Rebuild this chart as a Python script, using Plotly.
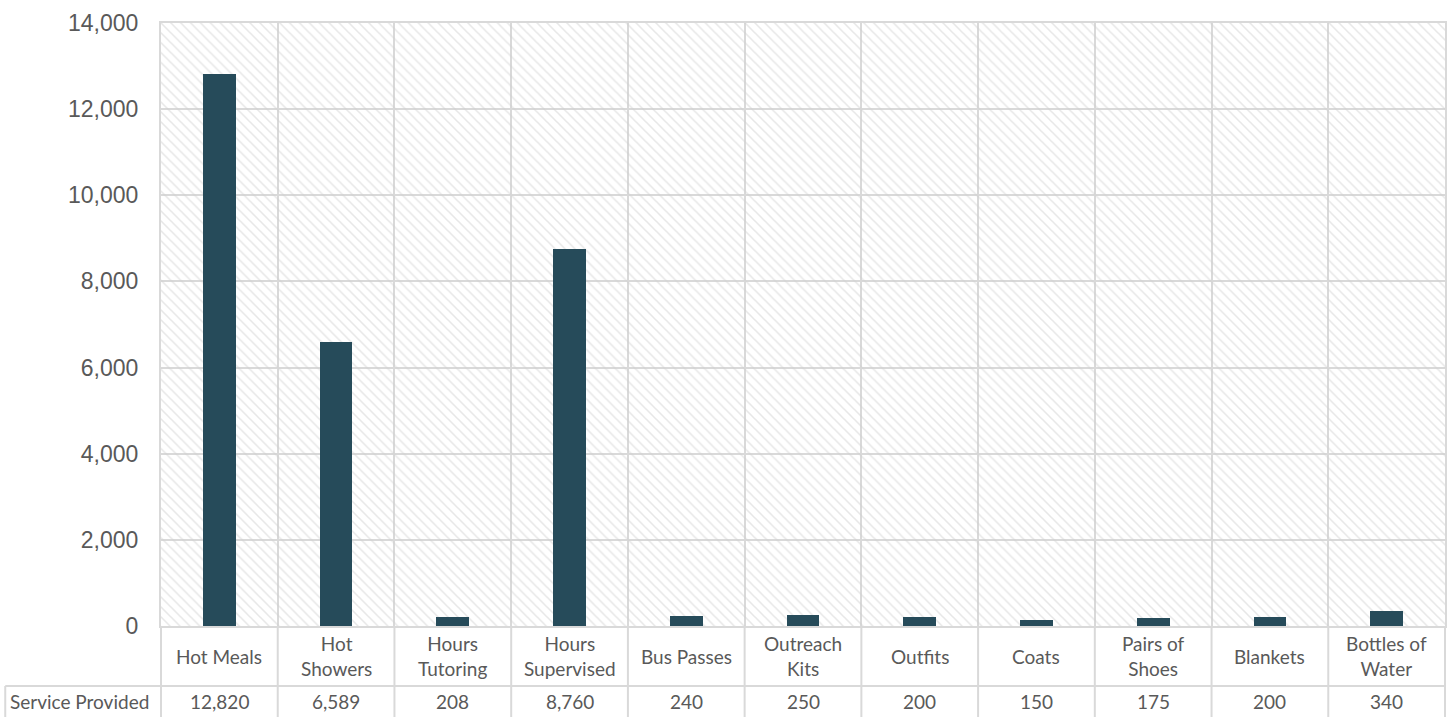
import plotly.graph_objects as go

# Services delivered over the year
categories = ["Hot Meals", "Hot Showers", "Hours Tutoring", "Hours Supervised",
              "Bus Passes", "Outreach Kits", "Outfits", "Coats",
              "Pairs of Shoes", "Blankets", "Bottles of Water"]
category_labels = ["Hot Meals", "Hot<br>Showers", "Hours<br>Tutoring", "Hours<br>Supervised",
                   "Bus Passes", "Outreach<br>Kits", "Outfits", "Coats",
                   "Pairs of<br>Shoes", "Blankets", "Bottles of<br>Water"]
service_provided = [12820, 6589, 208, 8760, 240, 250, 200, 150, 175, 200, 340]
series_name = "Service Provided"

y_max = 14000
y_ticks = [0, 2000, 4000, 6000, 8000, 10000, 12000, 14000]

W, H = 1453, 717
M_L, M_R, M_T, M_B = 161, 6, 23, 91
plot_h = H - M_T - M_B
plot_w = W - M_L - M_R

GRID = "#d9d9d9"
TEXT = "#595959"
BAR = "#264b5a"
TABLE_FONT = dict(family="Lato, 'Open Sans', sans-serif", size=19, color=TEXT)


def py(px):
    """pixel row -> paper y"""
    return (H - M_B - px) / plot_h


def pxx(px):
    """pixel column -> paper x"""
    return (px - M_L) / plot_w


fig = go.Figure()

# hatched plot-area background
fig.add_trace(go.Bar(
    x=categories, y=[y_max] * len(categories), width=1,
    marker=dict(color="rgba(0,0,0,0)", line=dict(width=0),
                pattern=dict(shape="\\", fillmode="overlay", fgcolor="#cfcfcf",
                             size=7, solidity=0.22)),
    hoverinfo="skip", showlegend=False,
))

fig.add_trace(go.Bar(
    x=categories, y=service_provided, width=0.28, name=series_name,
    marker=dict(color=BAR, line=dict(width=0)), showlegend=False,
))

# data table under the axis
annotations = []
n = len(categories)
for cat, lab, val in zip(categories, category_labels, service_provided):
    annotations.append(dict(x=cat, y=py(656), xref="x", yref="paper", text=lab,
                            showarrow=False, font=TABLE_FONT, align="center",
                            xanchor="center", yanchor="middle"))
    annotations.append(dict(x=cat, y=py(701), xref="x", yref="paper", text=f"{val:,}",
                            showarrow=False, font=TABLE_FONT,
                            xanchor="center", yanchor="middle"))
annotations.append(dict(x=pxx(8), y=py(701), xref="paper", yref="paper", text=series_name,
                        showarrow=False, font=TABLE_FONT, xanchor="left", yanchor="middle"))

shapes = []
line = dict(color=GRID, width=2)
for k in range(n + 1):
    shapes.append(dict(type="line", xref="paper", yref="paper", x0=k / n, x1=k / n,
                       y0=0, y1=py(730), line=line))
shapes.append(dict(type="line", xref="paper", yref="paper", x0=pxx(5), x1=1,
                   y0=py(686), y1=py(686), line=line))
shapes.append(dict(type="line", xref="paper", yref="paper", x0=pxx(5), x1=pxx(5),
                   y0=py(686), y1=py(730), line=line))

fig.update_layout(
    width=W, height=H,
    margin=dict(l=M_L, r=M_R, t=M_T, b=M_B, pad=0),
    paper_bgcolor="white", plot_bgcolor="white",
    barmode="overlay", bargap=0,
    annotations=annotations, shapes=shapes,
    xaxis=dict(type="category", tickson="boundaries", showgrid=True, gridcolor=GRID,
               gridwidth=2, showticklabels=False, ticks="", showline=True,
               linecolor=GRID, linewidth=2, mirror=True, range=[-0.5, n - 0.5]),
    yaxis=dict(range=[0, y_max], tickvals=y_ticks, tickformat=",d", showgrid=True,
               gridcolor=GRID, gridwidth=2, zeroline=False, showline=True,
               linecolor=GRID, linewidth=2, mirror=True, ticks="",
               ticklabelstandoff=16,
               tickfont=dict(family="'Liberation Sans', Arial, sans-serif", size=23, color=TEXT)),
)

fig.write_html("out.html")
